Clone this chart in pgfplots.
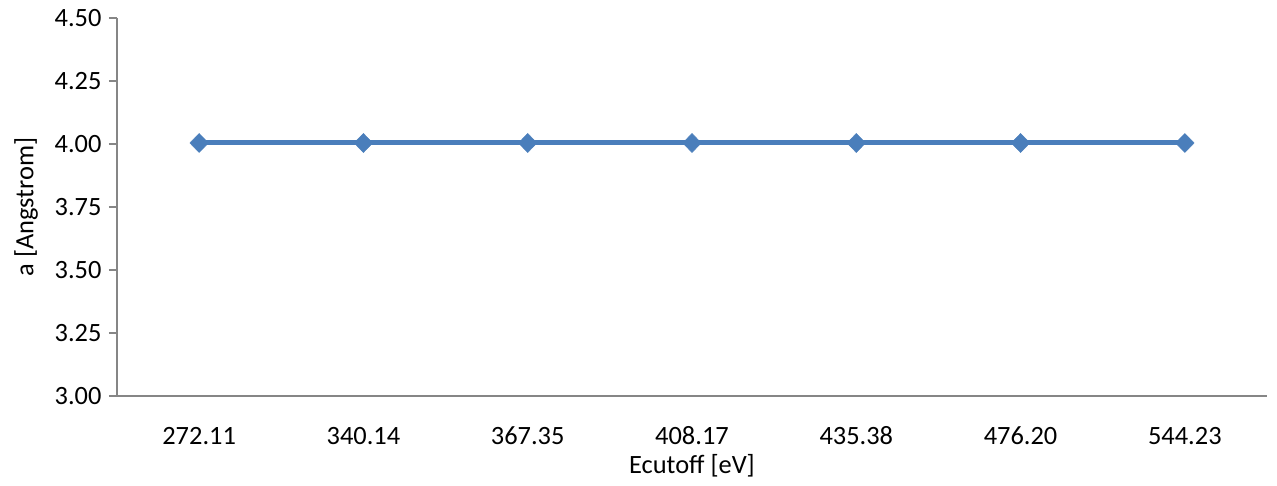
\documentclass[border=0pt]{standalone}
\usepackage{pgfplots}
\pgfplotsset{compat=1.18}
\usepackage{fontspec}
\setmainfont{Carlito}
\definecolor{axgray}{HTML}{868686}
\definecolor{ser}{HTML}{4A7EBB}
\begin{document}
\begin{tikzpicture}
\useasboundingbox (-117bp,-90bp) rectangle (1160bp,396bp);
\begin{axis}[
  at={(0,0)}, anchor=south west,
  scale only axis,
  width=1150bp, height=378bp,
  xmin=-0.5, xmax=6.5,
  ymin=3, ymax=4.5,
  ytick={3,3.25,...,4.5},
  yticklabel style={/pgf/number format/fixed,/pgf/number format/fixed zerofill,/pgf/number format/precision=2},
  /pgf/number format/assume math mode=true,
  xtick={0,...,6},
  xticklabels={272.11,340.14,367.35,408.17,435.38,476.20,544.23},
  minor xtick={-0.5,0.5,...,6.5},
  x tick style={draw=none},
  minor x tick style={axgray, line width=1.2bp},
  y tick style={axgray, line width=1.2bp},
  major tick length=8bp,
  minor tick length=8bp,
  tick align=outside,
  axis x line*=bottom,
  axis y line*=left,
  axis line style={axgray, line width=1.2bp, -},
  ticklabel style={font=\fontsize{26.5}{31}\selectfont, text=black},
  xticklabel style={anchor=center, yshift=-32bp},
  yticklabel style={xshift=-4bp},
  xlabel={Ecutoff [eV]},
  ylabel={a [Angstrom]},
  label style={font=\fontsize{26.5}{31}\selectfont},
  xlabel style={at={(axis description cs:0.5,0)}, anchor=center, yshift=-70bp},
  ylabel style={at={(axis description cs:-0.079,0.5)}, anchor=center},
  clip=false,
]
\addplot[ser, line width=5bp, mark=diamond*, mark size=9.5bp, mark options={fill=ser, draw=ser, line width=0.5bp, xscale=1.3}]
  coordinates {(0,4.004) (1,4.004) (2,4.004) (3,4.004) (4,4.004) (5,4.004) (6,4.004)};
\end{axis}
\end{tikzpicture}
\end{document}
